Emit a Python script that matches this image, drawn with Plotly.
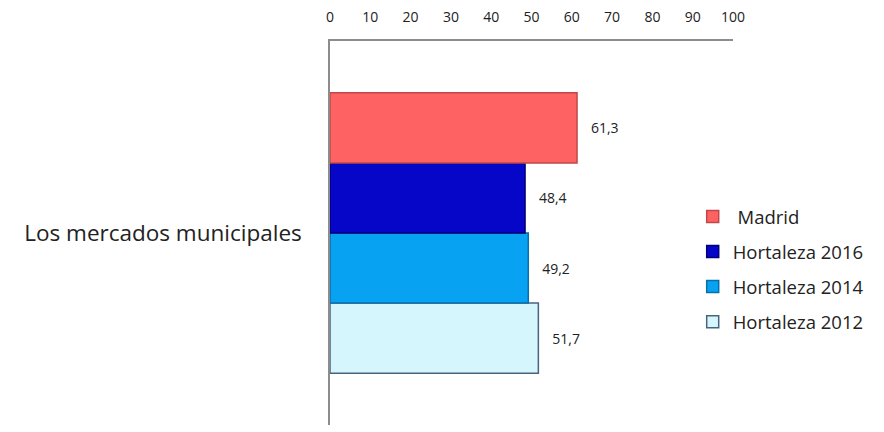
import plotly.graph_objects as go

# Data
category = ["Los mercados municipales"]
series_names = ["Hortaleza 2012", "Hortaleza 2014", "Hortaleza 2016", " Madrid"]
series_values = [51.7, 49.2, 48.4, 61.3]
series_labels = ["51,7", "49,2", "48,4", "61,3"]
x_ticks = [0, 10, 20, 30, 40, 50, 60, 70, 80, 90, 100]

fill_colors = ["#D6F6FD", "#08A2F2", "#0606C8", "#FF6262"]
line_colors = ["#4A6480", "#0A6FA8", "#00007A", "#C04848"]

fig = go.Figure()
for i, (name, val, lab, fc, lc) in enumerate(zip(series_names, series_values, series_labels,
                                                 fill_colors, line_colors)):
    fig.add_trace(go.Bar(
        y=category,
        x=[val],
        name=name,
        orientation="h",
        legendgroup=name,
        legendrank=1000 - i,
        marker=dict(color=fc, line=dict(color=lc, width=1.5)),
        text=["   " + lab],
        textposition="outside",
        textfont=dict(size=14, color="#222222"),
        cliponaxis=False,
    ))

# page body has an 8px margin, so margins are nudged to compensate
fig.update_layout(
    width=884,
    height=432,
    barmode="group",
    bargap=0.27,
    bargroupgap=0.0,
    separators=",.",
    paper_bgcolor="white",
    plot_bgcolor="white",
    font=dict(family="Open Sans, Liberation Sans, sans-serif", color="#222222"),
    margin=dict(l=322, r=159, t=33, b=15),
    legend=dict(
        x=0.90, y=0.405, xanchor="left", yanchor="middle",
        traceorder="grouped",
        tracegroupgap=8,
        font=dict(size=18.5),
        itemwidth=30,
    ),
    showlegend=True,
)

fig.update_xaxes(
    side="top",
    range=[0, 100],
    tickvals=x_ticks,
    ticktext=[str(t) for t in x_ticks],
    tickfont=dict(size=14),
    showgrid=False,
    zeroline=False,
    showline=True,
    linecolor="#8C8C8C",
    linewidth=1.5,
    ticks="",
    ticklabelstandoff=12,
    automargin=False,
)
fig.update_yaxes(
    showgrid=False,
    showline=True,
    linecolor="#8C8C8C",
    linewidth=1.5,
    tickfont=dict(size=22.5),
    ticks="",
    ticklabelstandoff=22,
    automargin=False,
)

fig.write_html("out.html")
